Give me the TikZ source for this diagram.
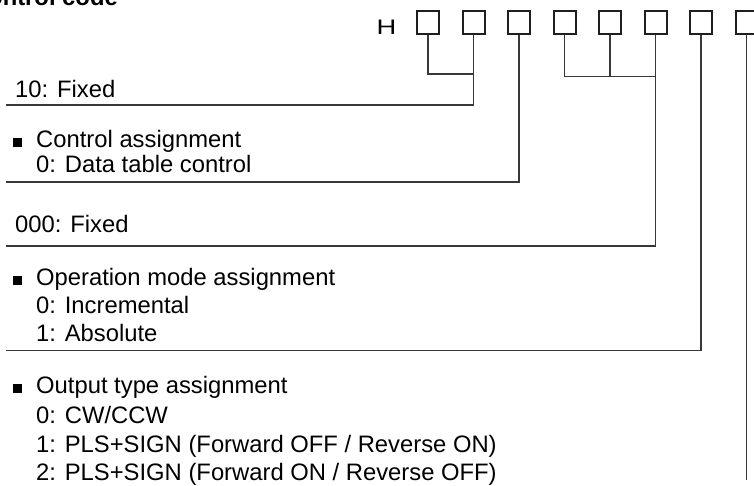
\documentclass[tikz,border=0pt]{standalone}
\usepackage{fontspec}
\setmainfont{Liberation Sans}
\begin{document}
\begin{tikzpicture}[x=1pt,y=-1pt,
  digit/.style={draw=black!88,line width=2pt,fill=white,minimum width=22pt,minimum height=23pt,inner sep=0pt},
  lead/.style={draw=black!78,line width=1.5pt},
  txt/.style={anchor=base west,inner sep=0pt,font=\fontsize{23.8}{28.5}\selectfont},
]
\useasboundingbox (0,0) rectangle (754,485);
% title
\node[anchor=base east,inner sep=0pt,font=\fontsize{23.8}{28.5}\selectfont\bfseries] (title) at (118,5) {Control code};
% H and digit boxes
\node[anchor=base west,inner sep=0pt,font=\fontsize{21}{24}\selectfont] (H) at (376.5,34) {\scalebox{1.3}[1]{H}};
\foreach \i in {1,...,8}{
  \node[digit] (b\i) at ({428+45.5*(\i-1)},22.5) {};
}
% junction and end coordinates
\coordinate (j12) at (473.5,74);
\coordinate (j46) at (655.5,76.5);
\coordinate (e1) at (6,105);
\coordinate (e2) at (6,182);
\coordinate (e3) at (6,246);
\coordinate (e4) at (6,350.5);
\coordinate (e5) at (746.5,480);
% connectors
\draw[lead] (b1.south) |- (j12);
\draw[lead] (b2.south) |- (e1);
\draw[lead] (b3.south) |- (e2);
\draw[lead] (b4.south) |- (j46);
\draw[lead] (b5.south) -- (b5.south |- j46);
\draw[lead] (b6.south) |- (e3);
\draw[lead] (b7.south) |- (e4);
\draw[lead] (b8.south) -- (e5);
% texts
\node[txt] (t1) at (15,97) {10: Fixed};
\node[txt] (t2a) at (13,147) {\makebox[23pt][l]{\rule{9pt}{9pt}}Control assignment};
\node[txt] (t2b) at (36,172.5) {0: Data table control};
\node[txt] (t3) at (15,232) {000: Fixed};
\node[txt] (t4a) at (13,285) {\makebox[23pt][l]{\rule{9pt}{9pt}}Operation mode assignment};
\node[txt] (t4b) at (36,313.3) {0: Incremental};
\node[txt] (t4c) at (36,341.7) {1: Absolute};
\node[txt] (t5a) at (13,393) {\makebox[23pt][l]{\rule{9pt}{9pt}}Output type assignment};
\node[txt] (t5b) at (36,423) {0: CW/CCW};
\node[txt] (t5c) at (36,452) {1: PLS+SIGN (Forward OFF / Reverse ON)};
\node[txt] (t5d) at (36,480) {2: PLS+SIGN (Forward ON / Reverse OFF)};
\end{tikzpicture}
\end{document}
